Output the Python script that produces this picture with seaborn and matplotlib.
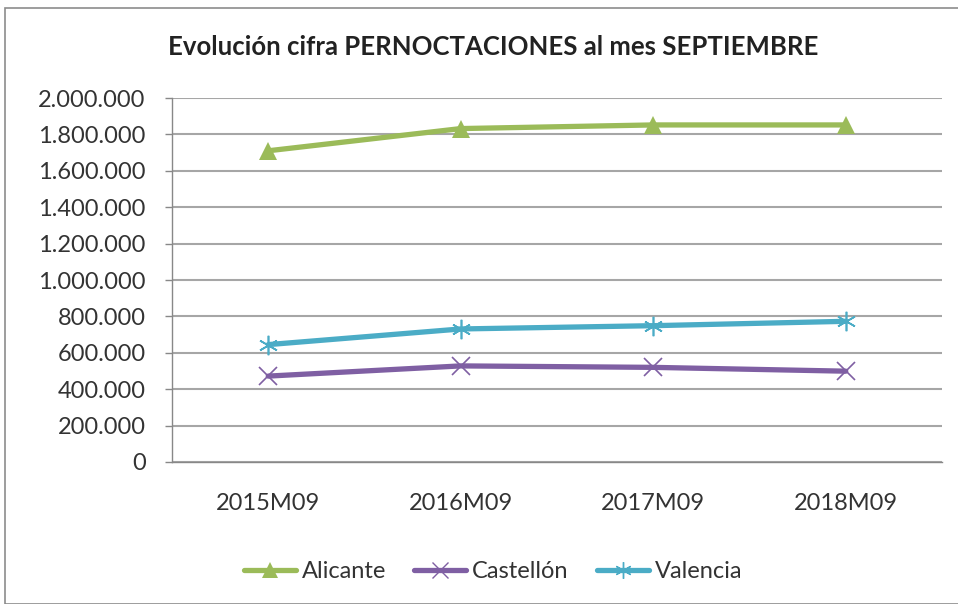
import matplotlib
matplotlib.use("Agg")
import matplotlib.pyplot as plt
import seaborn as sns
import pandas as pd
from matplotlib.ticker import FuncFormatter, FixedLocator
from matplotlib.patches import Rectangle
from matplotlib.lines import Line2D

periods = ["2015M09", "2016M09", "2017M09", "2018M09"]
alicante = [1710000, 1832000, 1852000, 1852000]
castellon = [472000, 528000, 520000, 499000]
valencia = [645000, 731000, 749000, 773000]
series_names = ["Alicante", "Castellón", "Valencia"]
title = "Evolución cifra PERNOCTACIONES al mes SEPTIEMBRE"

colors = {"Alicante": "#9BBB59", "Castellón": "#7F5FA3", "Valencia": "#4BACC6"}
markers = {"Alicante": "^", "Castellón": "x", "Valencia": (6, 2, 0)}
msize = {"Alicante": 13, "Castellón": 13, "Valencia": 14}

sns.set_theme(style="white")
plt.rcParams["font.family"] = ["Lato", "DejaVu Sans"]

fig = plt.figure(figsize=(9.58, 6.04), dpi=100)
ax = fig.add_axes([172/958, 1-462/604, (942-172)/958, (462-98)/604])

data = {"Alicante": alicante, "Castellón": castellon, "Valencia": valencia}
for name in series_names:
    df = pd.DataFrame({"periodo": periods, "valor": data[name]})
    sns.lineplot(data=df, x="periodo", y="valor", ax=ax, color=colors[name],
                 linewidth=3.8, marker=markers[name], markersize=msize[name],
                 markeredgewidth=1.2 if name != "Alicante" else 0,
                 markeredgecolor=colors[name], label=name, legend=False)

ax.set_xlim(-0.5, 3.5)
ax.set_ylim(0, 2000000)
ax.yaxis.set_major_locator(FixedLocator(range(0, 2000001, 200000)))
ax.yaxis.set_major_formatter(FuncFormatter(lambda v, p: "0" if v == 0 else f"{int(v):,}".replace(",", ".")))
ax.grid(axis="y", color="#A6A6A6", linewidth=1.5)
ax.set_axisbelow(True)
ax.set_xlabel("")
ax.set_ylabel("")
for s in ["top", "right"]:
    ax.spines[s].set_visible(False)
ax.spines["left"].set_color("#888888")
ax.spines["bottom"].set_color("#888888")
ax.spines["left"].set_linewidth(1)
ax.spines["bottom"].set_linewidth(1)

ax.set_xticks(range(len(periods)))
ax.set_xticklabels(periods)
ax.set_xticks([-0.5, 0.5, 1.5, 2.5, 3.5], minor=True)
ax.tick_params(axis="x", which="major", length=0, pad=22, labelsize=17, labelcolor="#333333")
ax.tick_params(axis="x", which="minor", length=6, color="#888888", width=1, direction="out")
ax.tick_params(axis="y", which="major", length=5, color="#888888", width=1, direction="out",
               labelsize=17, labelcolor="#333333", pad=14, left=True)

fig.text(493/958, 1-47/604, title, ha="center", va="center", fontsize=18.5,
         fontweight="bold", color="#222222")

handles = [Line2D([0], [0], color=colors[n], linewidth=3.8, marker=markers[n],
                  markersize=msize[n]*0.85, markeredgewidth=1 if n != "Alicante" else 0,
                  markeredgecolor=colors[n]) for n in series_names]
fig.legend(handles, series_names, loc="center", bbox_to_anchor=(493/958, 1-572/604),
           ncol=3, frameon=False, fontsize=17, handlelength=2.2, columnspacing=1.2,
           handletextpad=0.25, labelcolor="#333333")

fig.patches.append(Rectangle((5/958, 0), 1.0, 1-8/604, transform=fig.transFigure,
                             fill=False, edgecolor="#8C8C8C", linewidth=1.2))

fig.savefig("out.png", dpi=100)
